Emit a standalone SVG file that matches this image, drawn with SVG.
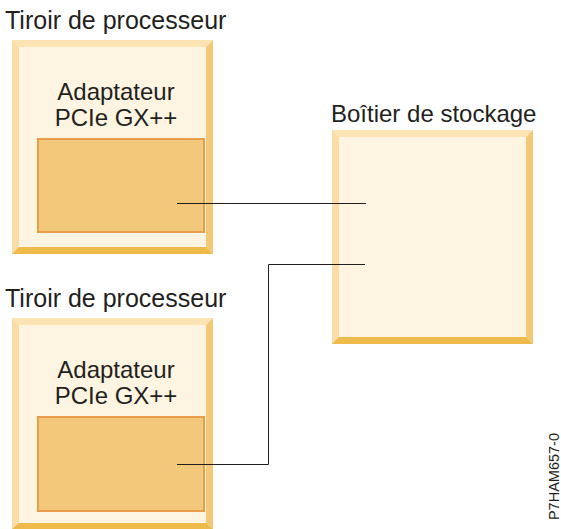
<svg xmlns="http://www.w3.org/2000/svg" width="561" height="529" viewBox="0 0 561 529">
<style>
.lbl{font-family:"Liberation Sans",Arial,sans-serif;font-size:25px;fill:#231f20}
.in{font-family:"Liberation Sans",Arial,sans-serif;font-size:24px;fill:#231f20;text-anchor:middle}
.face{fill:#fdf5e1}
.bt{fill:#fbe3b3}
.bl{fill:#f9dca6}
.br{fill:#f4c874}
.bb{fill:#eeba4a}
.card{fill:#f2c87a;stroke:#e99d4a;stroke-width:2}
.wire{fill:none;stroke:#231f20;stroke-width:1}
.code{font-family:"Liberation Sans",Arial,sans-serif;font-size:14.5px;fill:#231f20;text-anchor:end}
</style>
<g id="drawer1">
<text class="lbl" x="5" y="29">Tiroir de processeur</text>
<rect class="face" x="12" y="40" width="201" height="214"/>
<polygon class="bt" points="12,40 213,40 206,47 19,47"/>
<polygon class="bl" points="12,40 19,47 19,247 12,254"/>
<polygon class="br" points="213,40 213,254 206,247 206,47"/>
<polygon class="bb" points="12,254 213,254 206,247 19,247"/>
<text class="in" x="116" y="100">Adaptateur</text>
<text class="in" x="116" y="126">PCIe GX++</text>
<rect id="adapter1" class="card" x="38" y="139" width="166" height="93"/>
</g>
<g id="drawer2">
<text class="lbl" x="5" y="307">Tiroir de processeur</text>
<rect class="face" x="12" y="318" width="201" height="211"/>
<polygon class="bt" points="12,318 213,318 206,325 19,325"/>
<polygon class="bl" points="12,318 19,325 19,523 12,529"/>
<polygon class="br" points="213,318 213,529 206,523 206,325"/>
<polygon class="bb" points="12,529 213,529 206,523 19,523"/>
<text class="in" x="116" y="378">Adaptateur</text>
<text class="in" x="116" y="404">PCIe GX++</text>
<rect id="adapter2" class="card" x="38" y="417" width="166" height="94"/>
</g>
<g id="storage">
<text class="lbl" x="331" y="122" style="font-size:24px">Boîtier de stockage</text>
<rect class="face" x="332" y="130" width="201" height="214"/>
<polygon class="bt" points="332,130 533,130 526,137 339,137"/>
<polygon class="bl" points="332,130 339,137 339,337 332,344"/>
<polygon class="br" points="533,130 533,344 526,337 526,137"/>
<polygon class="bb" points="332,344 533,344 526,337 339,337"/>
</g>
<g id="connectors">
<polyline class="wire" points="177,203.5 366,203.5"/>
<polyline class="wire" points="177,464.5 268.5,464.5 268.5,264.5 365,264.5"/>
</g>
<text class="code" transform="translate(559,433) rotate(-90)">P7HAM657-0</text>
</svg>
